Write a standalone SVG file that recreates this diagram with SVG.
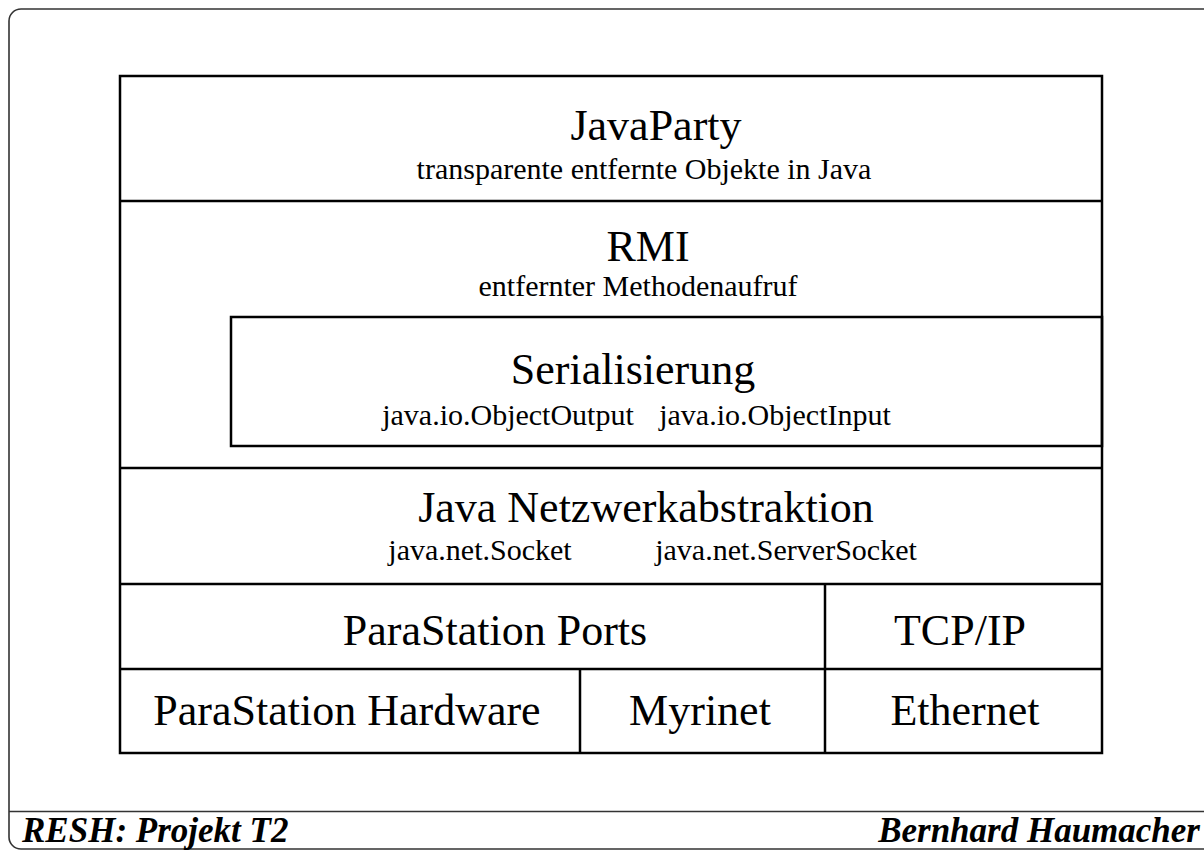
<svg xmlns="http://www.w3.org/2000/svg" width="1204" height="852" viewBox="0 0 1204 852">
<style>
.frame{fill:none;stroke:#333;stroke-width:1.6}
.box{fill:none;stroke:#000;stroke-width:2.5}
.ln{stroke:#000;stroke-width:2.5}
.t{font-size:44px;fill:#000;text-anchor:middle}
.s{font-size:30px;fill:#000;text-anchor:middle}
.f{font-size:35px;font-weight:bold;font-style:italic;fill:#000}
</style>
<rect x="0" y="0" width="1204" height="852" fill="#fff"/>
<g id="frame">
<rect class="frame" x="9" y="9" width="1220" height="840" rx="12"/>
<line class="frame" x1="9" y1="811.5" x2="1204" y2="811.5"/>
</g>
<g font-family="'Liberation Serif', 'Times New Roman', Times, serif">
<g id="stack">
<rect class="box" x="120" y="76" width="982" height="677"/>
</g>
<g id="javaparty">
<line class="ln" x1="120" y1="201" x2="1102" y2="201"/>
<text class="t" x="656" y="140">JavaParty</text>
<text class="s" x="644" y="179">transparente entfernte Objekte in Java</text>
</g>
<g id="rmi">
<text class="t" x="648" y="261">RMI</text>
<text class="s" x="638" y="296">entfernter Methodenaufruf</text>
</g>
<g id="serialisierung">
<rect class="box" x="231" y="317" width="871" height="129"/>
<text class="t" x="633" y="384">Serialisierung</text>
<text class="s" x="508" y="425">java.io.ObjectOutput</text>
<text class="s" x="775" y="425">java.io.ObjectInput</text>
</g>
<g id="netz">
<line class="ln" x1="120" y1="468" x2="1102" y2="468"/>
<text class="t" x="646" y="522">Java Netzwerkabstraktion</text>
<text class="s" x="480" y="560">java.net.Socket</text>
<text class="s" x="786" y="560">java.net.ServerSocket</text>
</g>
<g id="parastation-ports">
<line class="ln" x1="120" y1="584" x2="1102" y2="584"/>
<text class="t" x="495" y="645">ParaStation Ports</text>
</g>
<g id="tcpip">
<line class="ln" x1="825" y1="584" x2="825" y2="753"/>
<text class="t" x="960" y="645">TCP/IP</text>
</g>
<g id="parastation-hardware">
<line class="ln" x1="120" y1="669" x2="1102" y2="669"/>
<text class="t" x="347" y="725">ParaStation Hardware</text>
</g>
<g id="myrinet">
<line class="ln" x1="580" y1="669" x2="580" y2="753"/>
<text class="t" x="700" y="725">Myrinet</text>
</g>
<g id="ethernet">
<text class="t" x="965" y="725">Ethernet</text>
</g>
<g id="footer">
<text class="f" x="22" y="842">RESH: Projekt T2</text>
<text class="f" x="1200" y="842" text-anchor="end">Bernhard Haumacher</text>
</g>
</g>
</svg>
